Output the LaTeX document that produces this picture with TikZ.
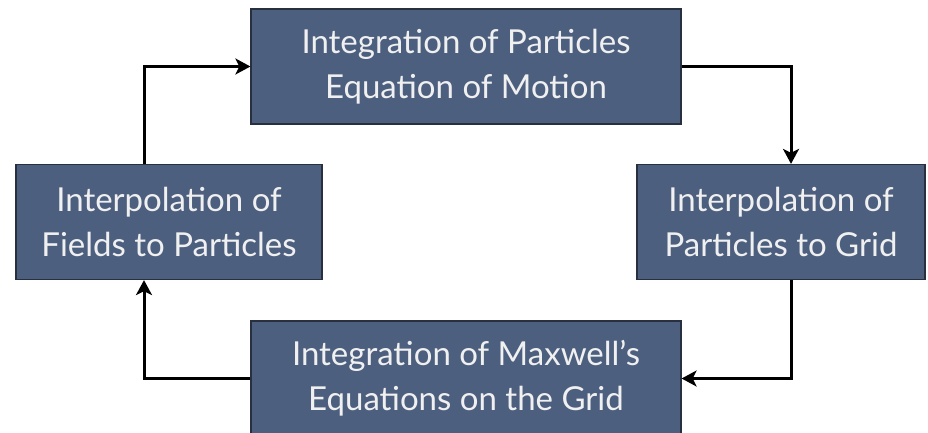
\documentclass[tikz,border=0pt]{standalone}
\usepackage{fontspec}
\setmainfont{Lato}
\usetikzlibrary{arrows.meta, positioning}

\definecolor{slate}{RGB}{77,95,127}
\definecolor{slateedge}{RGB}{40,48,64}

\begin{document}
\begin{tikzpicture}[
          x=1pt, y=1pt,
          box/.style = {draw=slateedge, line width=1.2pt, fill=slate,
                        text=white!94!black, minimum height=115pt,
                        inner sep=0pt, align=center,
                        font=\fontsize{33}{45}\selectfont},
          link/.style = {->, line width=3pt},
          >={Stealth[length=15pt, width=16pt, inset=4pt]}]
        \useasboundingbox (0,0) rectangle (928,-433);
        \begin{scope}
        \clip (0,0) rectangle (928,-433);
        \node[box, minimum width=430pt] (push) at (466,-66.5)
              {Integration of Particles\\Equation of Motion};
        \node[box, minimum width=306pt] (gather) at (169,-222)
              {Interpolation of\\Fields to Particles};
        \node[box, minimum width=288pt] (deposit) at (781,-222)
              {Interpolation of\\Particles to Grid};
        \node[box, minimum width=430pt] (solve) at (466,-378.5)
              {Integration of Maxwell’s\\Equations on the Grid};
        \end{scope}
        \draw[link] ([xshift=-25pt]gather.north) |- (push.west);
        \draw[link] (push.east) -| ([xshift=10pt]deposit.north);
        \draw[link] ([xshift=10pt]deposit.south) |- (solve.east);
        \draw[link] (solve.west) -| ([xshift=-25pt]gather.south);
      \end{tikzpicture}
\end{document}
